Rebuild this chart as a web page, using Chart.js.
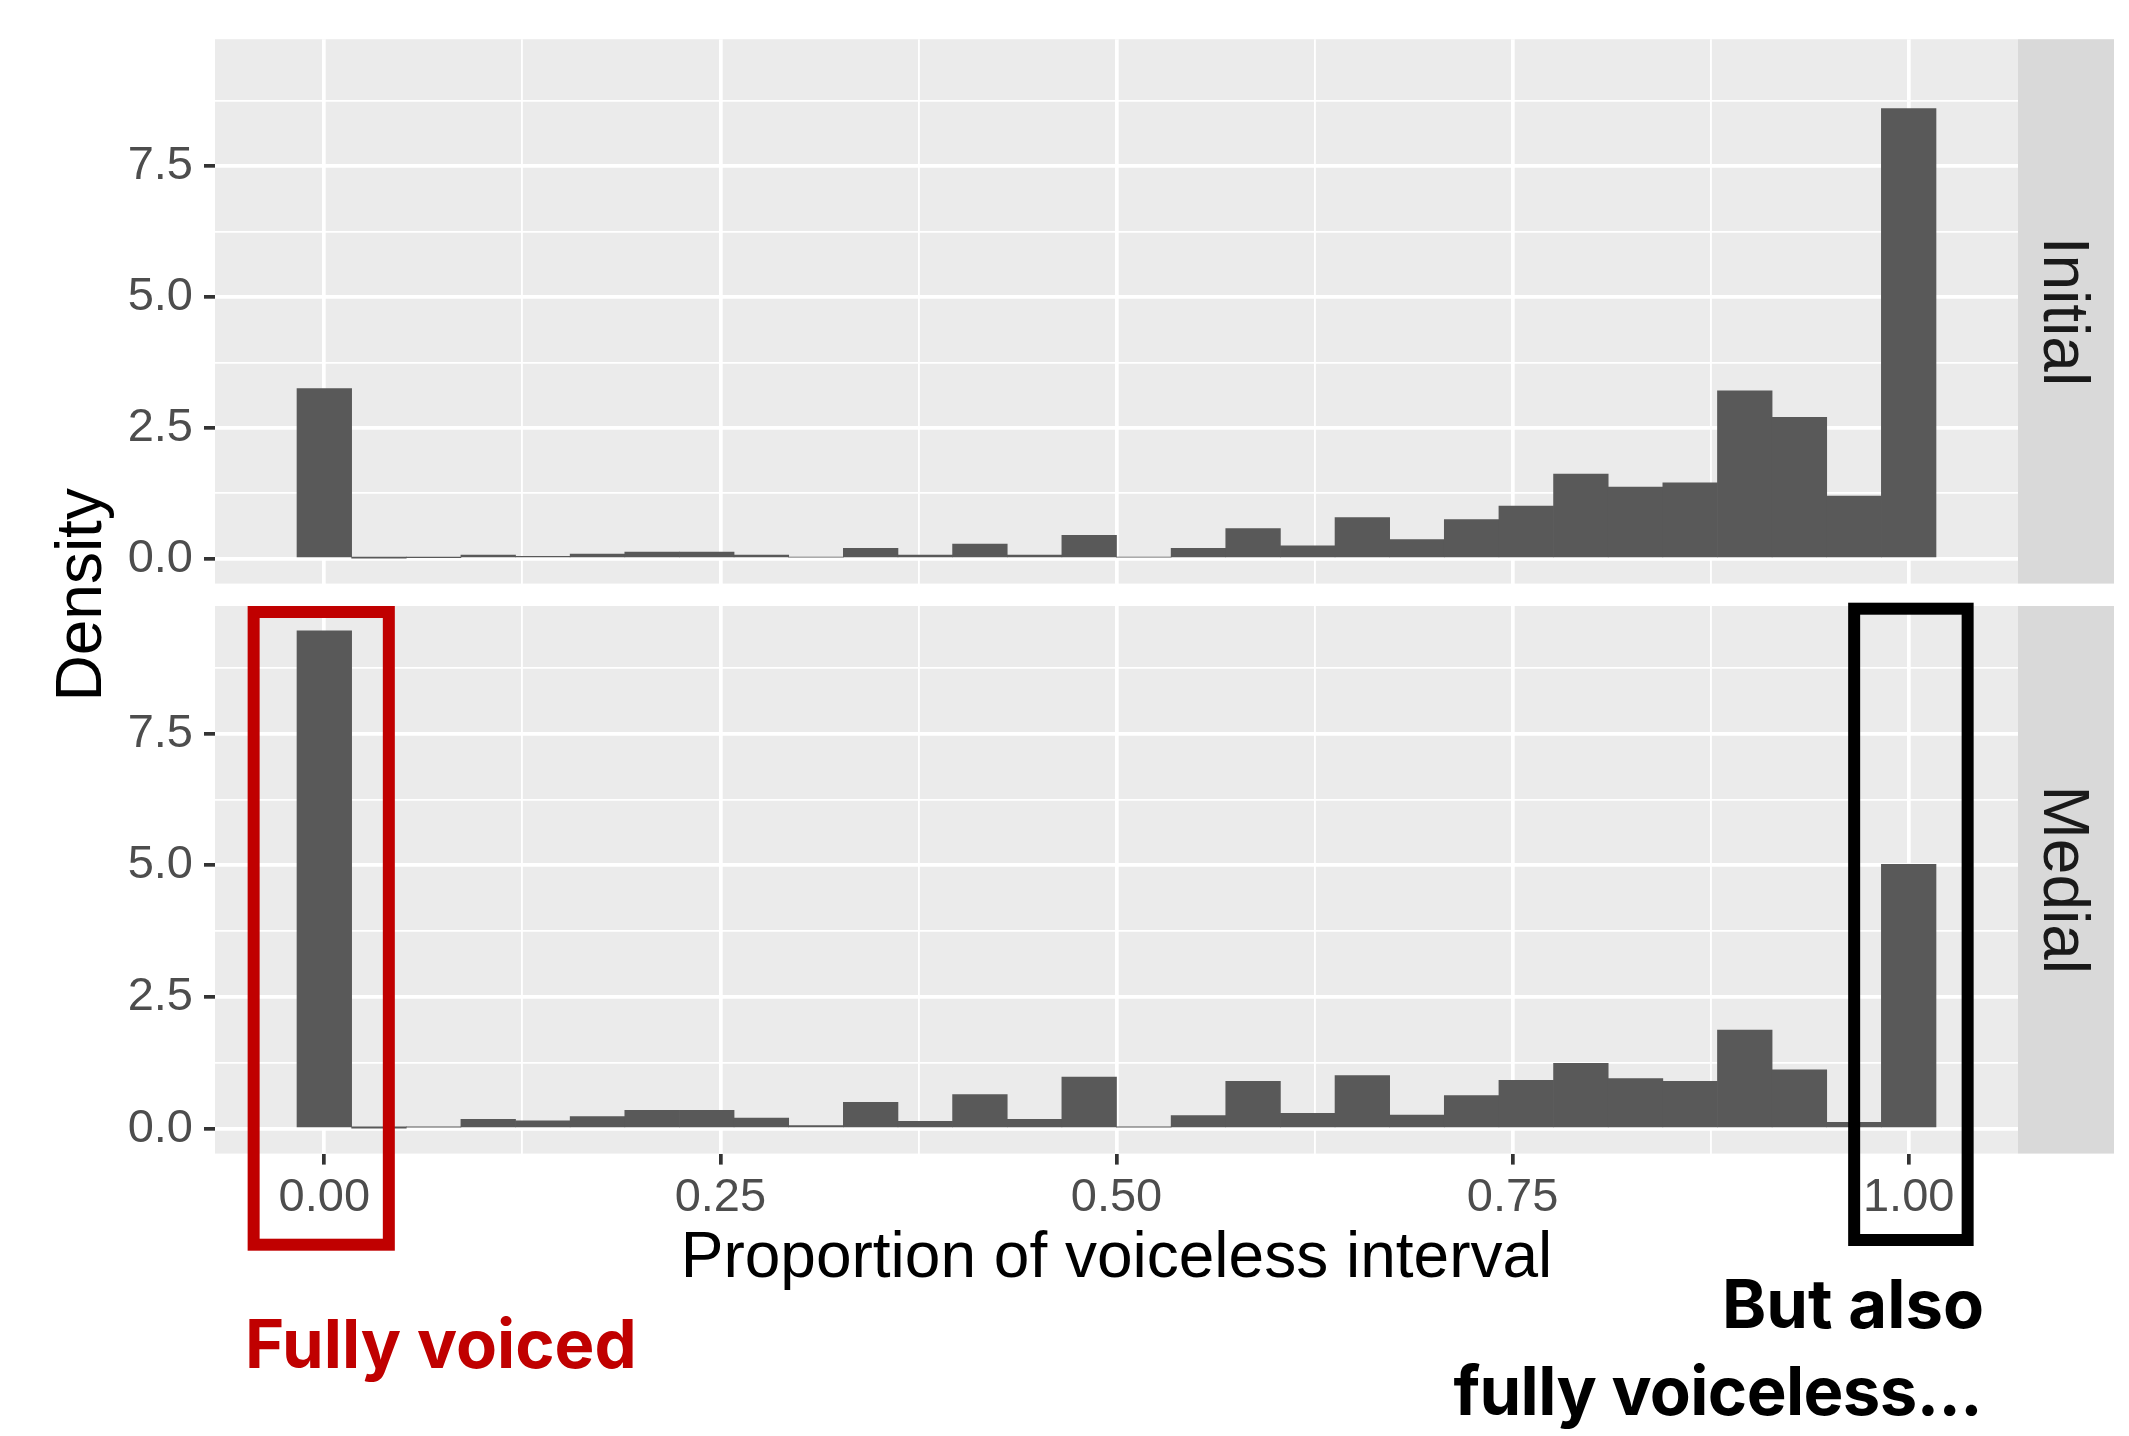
<!DOCTYPE html>
<html>
<head>
<meta charset="utf-8">
<script src="https://cdn.jsdelivr.net/npm/chart.js@4.4.1/dist/chart.umd.min.js"></script>
<style>
html, body { margin: 0; padding: 0; background: #ffffff; }
#wrap { position: relative; width: 2129px; height: 1436px; overflow: hidden; background: #ffffff; }
#wrap canvas { position: absolute; left: 0; top: 0; }
</style>
</head>
<body>
<div id="wrap">
  <canvas id="c1" width="2129" height="1436"></canvas>
  <canvas id="c2" width="2129" height="1436"></canvas>
</div>
<script>
// ---------------- data ----------------
const panels = ['Initial', 'Medial'];
const binCenters = [0, 0.03448, 0.06897, 0.10345, 0.13793, 0.17241, 0.2069, 0.24138, 0.27586, 0.31034,
                    0.34483, 0.37931, 0.41379, 0.44828, 0.48276, 0.51724, 0.55172, 0.58621, 0.62069, 0.65517,
                    0.68966, 0.72414, 0.75862, 0.7931, 0.82759, 0.86207, 0.89655, 0.93103, 0.96552, 1.0];
const initialDensity = [3.25, 0.015, 0.025, 0.07, 0.05, 0.09, 0.13, 0.13, 0.07, 0.03,
                        0.20, 0.07, 0.28, 0.07, 0.45, 0.03, 0.20, 0.58, 0.25, 0.79,
                        0.37, 0.75, 1.01, 1.62, 1.37, 1.45, 3.21, 2.70, 1.20, 8.60];
const medialDensity  = [9.45, 0.01, 0.03, 0.18, 0.15, 0.23, 0.35, 0.35, 0.20, 0.06,
                        0.50, 0.14, 0.65, 0.18, 0.98, 0.03, 0.25, 0.90, 0.29, 1.01,
                        0.26, 0.63, 0.92, 1.24, 0.95, 0.90, 1.87, 1.12, 0.12, 5.02];
const xTickValues = [0, 0.25, 0.5, 0.75, 1];
const xTickLabels = ['0.00', '0.25', '0.50', '0.75', '1.00'];
const xMinorValues = [0.125, 0.375, 0.625, 0.875];
const yTickValues = [0, 2.5, 5, 7.5];
const yTickLabels = ['0.0', '2.5', '5.0', '7.5'];
const yMinorValues = [1.25, 3.75, 6.25, 8.75];
const xTitle = 'Proportion of voiceless interval';
const yTitle = 'Density';
const noteVoiced = 'Fully voiced';
const noteVoiceless = ['But also', 'fully voiceless...'];

// ---------------- layout / style ----------------
const W = 2129, H = 1436;
const X_MIN = -0.069, X_MAX = 1.069;
const Y_MIN = -0.4725, Y_MAX = 9.9225;
const PANEL_LEFT = 215, PANEL_RIGHT = 2018, STRIP_W = 96;
const PANEL_BOXES = [{ top: 36, bottom: 583.6 }, { top: 606, bottom: 1153.6 }];
const XAXIS_H = 100;
const SANS = '"Liberation Sans", Arial, Helvetica, sans-serif';
const BOLD = 'Inter, "Noto Sans", sans-serif';

const near = (arr, v) => arr.findIndex(a => Math.abs(a - v) < 1e-9);
const allX = xTickValues.concat(xMinorValues).sort((a, b) => a - b);
const allY = yTickValues.concat(yMinorValues).sort((a, b) => a - b);

const panelBg = {
  id: 'panelBg',
  beforeDraw(chart) {
    const { ctx, chartArea: a } = chart;
    ctx.save();
    ctx.fillStyle = '#EBEBEB';
    ctx.fillRect(a.left, a.top, a.right - a.left, a.bottom - a.top);
    ctx.restore();
  }
};

function stripPlugin(label) {
  return {
    id: 'strip',
    afterDraw(chart) {
      const { ctx, chartArea: a } = chart;
      ctx.save();
      ctx.fillStyle = '#D9D9D9';
      ctx.fillRect(a.right, a.top, STRIP_W, a.bottom - a.top);
      ctx.translate(a.right + 25.5, (a.top + a.bottom) / 2);
      ctx.rotate(Math.PI / 2);
      ctx.fillStyle = '#1A1A1A';
      ctx.font = '64px ' + SANS;
      ctx.textAlign = 'center';
      ctx.textBaseline = 'alphabetic';
      ctx.fillText(label, 0, 0);
      ctx.restore();
    }
  };
}

const annotations = {
  id: 'annotations',
  afterDraw(chart) {
    const { ctx, chartArea: a } = chart;
    const xs = chart.scales.x;
    ctx.save();
    // axis titles
    ctx.fillStyle = '#000000';
    ctx.font = '64px ' + SANS;
    ctx.textAlign = 'center';
    ctx.textBaseline = 'alphabetic';
    ctx.fillText(xTitle, (a.left + a.right) / 2, 1276.7);
    ctx.save();
    ctx.translate(101, (PANEL_BOXES[0].top + PANEL_BOXES[1].bottom) / 2);
    ctx.rotate(-Math.PI / 2);
    ctx.fillText(yTitle, 0, 0);
    ctx.restore();

    // highlight boxes
    const lw = 12;
    ctx.lineWidth = lw;
    ctx.lineJoin = 'miter';
    const box = (v0, v1, top, bottom, color) => {
      const x0 = xs.getPixelForValue(v0), x1 = xs.getPixelForValue(v1);
      ctx.strokeStyle = color;
      ctx.strokeRect(x0 + lw / 2, top + lw / 2, x1 - x0 - lw, bottom - top - lw);
    };
    box(-0.0484, 0.0445, 606, 1250.7, '#C00000');
    box(0.9618, 1.0410, 602.7, 1246, '#000000');

    // notes
    ctx.font = '700 67px ' + BOLD;
    ctx.textAlign = 'left';
    ctx.fillStyle = '#C00000';
    ctx.fillText(noteVoiced, 245, 1368);
    ctx.textAlign = 'right';
    ctx.fillStyle = '#000000';
    ctx.fillText(noteVoiceless[0], 1984, 1328);
    if ('letterSpacing' in ctx) ctx.letterSpacing = '-0.6px';
    ctx.fillText(noteVoiceless[1], 1982, 1415);
    ctx.restore();
  }
};

function gridOpts(majors, showTicks) {
  return {
    color: '#FFFFFF',
    offset: false,
    lineWidth: c => (c.tick && near(majors, c.tick.value) >= 0) ? 3.7 : 1.85,
    drawTicks: showTicks,
    tickLength: 11,
    tickWidth: 3.7,
    tickColor: c => (c.tick && near(majors, c.tick.value) >= 0) ? '#333333' : 'rgba(0,0,0,0)'
  };
}

function makeChart(id, values, label, box, showX, extra) {
  return new Chart(document.getElementById(id), {
    type: 'bar',
    data: {
      datasets: [{
        data: binCenters.map((x, i) => ({ x: x, y: values[i] })),
        backgroundColor: '#595959',
        borderWidth: 0,
        barPercentage: 1,
        categoryPercentage: 1,
        grouped: false
      }]
    },
    options: {
      responsive: false,
      animation: false,
      events: [],
      layout: {
        padding: {
          left: 0,
          top: box.top,
          right: W - PANEL_RIGHT,
          bottom: showX ? H - box.bottom - XAXIS_H : H - box.bottom
        }
      },
      plugins: { legend: { display: false }, tooltip: { enabled: false }, title: { display: false } },
      scales: {
        x: {
          type: 'linear',
          min: X_MIN, max: X_MAX,
          offset: false,
          afterBuildTicks: s => { s.ticks = allX.map(v => ({ value: v })); },
          afterFit: s => { s.height = showX ? XAXIS_H : 0; },
          ticks: {
            display: showX,
            autoSkip: false, maxRotation: 0, minRotation: 0,
            padding: 5,
            color: '#4D4D4D',
            font: { family: SANS, size: 47 },
            callback: v => { const i = near(xTickValues, v); return i >= 0 ? xTickLabels[i] : ''; }
          },
          grid: gridOpts(xTickValues, showX),
          border: { display: false }
        },
        y: {
          type: 'linear',
          min: Y_MIN, max: Y_MAX,
          beginAtZero: false,
          afterBuildTicks: s => { s.ticks = allY.map(v => ({ value: v })); },
          afterFit: s => { s.width = PANEL_LEFT; },
          ticks: {
            autoSkip: false,
            padding: 11,
            color: '#4D4D4D',
            font: { family: SANS, size: 47 },
            callback: v => { const i = near(yTickValues, v); return i >= 0 ? yTickLabels[i] : ''; }
          },
          grid: gridOpts(yTickValues, true),
          border: { display: false }
        }
      }
    },
    plugins: [panelBg, stripPlugin(label)].concat(extra || [])
  });
}

function draw() {
  makeChart('c1', initialDensity, panels[0], PANEL_BOXES[0], false, []);
  makeChart('c2', medialDensity, panels[1], PANEL_BOXES[1], true, [annotations]);
}

Promise.all([
  document.fonts.load('64px "Liberation Sans"'),
  document.fonts.load('700 67px Inter')
]).then(draw, draw);
</script>
</body>
</html>
